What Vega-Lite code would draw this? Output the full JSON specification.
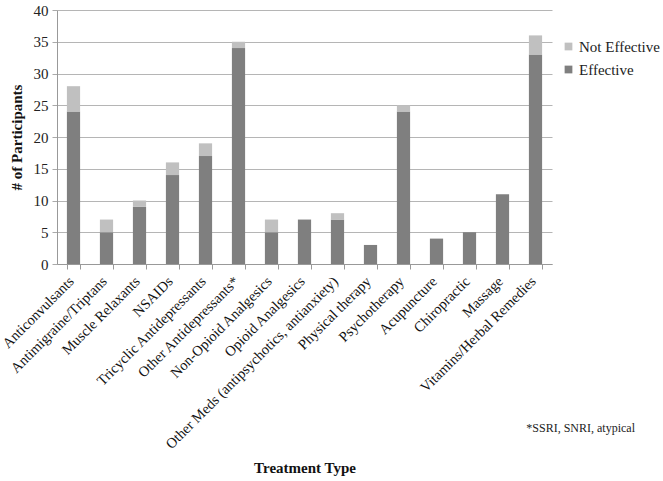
{
  "$schema": "https://vega.github.io/schema/vega-lite/v6.json",
  "width": 495,
  "height": 254,
  "autosize": {"type": "none"},
  "padding": {"left": 57, "top": 10, "right": 111, "bottom": 217},
  "background": "white",
  "config": {
    "font": "Liberation Serif",
    "view": {"stroke": null}
  },
  "title": {
    "text": "*SSRI, SNRI, atypical",
    "orient": "bottom",
    "anchor": "end",
    "frame": "group",
    "fontSize": 12,
    "fontWeight": "normal",
    "font": "Liberation Serif",
    "color": "#222",
    "offset": -52,
    "dx": 83
  },
  "data": {
    "values": [
      {"t": "Anticonvulsants", "s": "Effective", "v": 24, "o": 1},
      {"t": "Anticonvulsants", "s": "Not Effective", "v": 4, "o": 2},
      {"t": "Antimigraine/Triptans", "s": "Effective", "v": 5, "o": 1},
      {"t": "Antimigraine/Triptans", "s": "Not Effective", "v": 2, "o": 2},
      {"t": "Muscle Relaxants", "s": "Effective", "v": 9, "o": 1},
      {"t": "Muscle Relaxants", "s": "Not Effective", "v": 1, "o": 2},
      {"t": "NSAIDs", "s": "Effective", "v": 14, "o": 1},
      {"t": "NSAIDs", "s": "Not Effective", "v": 2, "o": 2},
      {"t": "Tricyclic Antidepressants", "s": "Effective", "v": 17, "o": 1},
      {"t": "Tricyclic Antidepressants", "s": "Not Effective", "v": 2, "o": 2},
      {"t": "Other Antidepressants*", "s": "Effective", "v": 34, "o": 1},
      {"t": "Other Antidepressants*", "s": "Not Effective", "v": 1, "o": 2},
      {"t": "Non-Opioid Analgesics", "s": "Effective", "v": 5, "o": 1},
      {"t": "Non-Opioid Analgesics", "s": "Not Effective", "v": 2, "o": 2},
      {"t": "Opioid Analgesics", "s": "Effective", "v": 7, "o": 1},
      {"t": "Opioid Analgesics", "s": "Not Effective", "v": 0, "o": 2},
      {"t": "Other Meds (antipsychotics, antianxiety)", "s": "Effective", "v": 7, "o": 1},
      {"t": "Other Meds (antipsychotics, antianxiety)", "s": "Not Effective", "v": 1, "o": 2},
      {"t": "Physical therapy", "s": "Effective", "v": 3, "o": 1},
      {"t": "Physical therapy", "s": "Not Effective", "v": 0, "o": 2},
      {"t": "Psychotherapy", "s": "Effective", "v": 24, "o": 1},
      {"t": "Psychotherapy", "s": "Not Effective", "v": 1, "o": 2},
      {"t": "Acupuncture", "s": "Effective", "v": 4, "o": 1},
      {"t": "Acupuncture", "s": "Not Effective", "v": 0, "o": 2},
      {"t": "Chiropractic", "s": "Effective", "v": 5, "o": 1},
      {"t": "Chiropractic", "s": "Not Effective", "v": 0, "o": 2},
      {"t": "Massage", "s": "Effective", "v": 11, "o": 1},
      {"t": "Massage", "s": "Not Effective", "v": 0, "o": 2},
      {"t": "Vitamins/Herbal Remedies", "s": "Effective", "v": 33, "o": 1},
      {"t": "Vitamins/Herbal Remedies", "s": "Not Effective", "v": 3, "o": 2}
    ]
  },
  "mark": {"type": "bar"},
  "encoding": {
    "x": {
      "field": "t",
      "type": "nominal",
      "sort": null,
      "scale": {"paddingInner": 0.6, "paddingOuter": 0.3},
      "axis": {
        "title": "Treatment Type",
        "titleFont": "Liberation Serif",
        "titleFontSize": 15,
        "titleFontWeight": "bold",
        "titleColor": "#111",
        "titleY": 203,
        "titleBaseline": "middle",
        "labelAngle": -45,
        "labelAlign": "right",
        "labelBaseline": "middle",
        "labelFont": "Liberation Serif",
        "labelFontSize": 14.5,
        "labelColor": "#111",
        "labelPadding": 10,
        "labelOffset": -2,
        "labelLimit": 400,
        "tickBand": "extent",
        "tickSize": 5,
        "tickColor": "#999",
        "domainColor": "#999",
        "grid": false
      }
    },
    "y": {
      "field": "v",
      "type": "quantitative",
      "stack": "zero",
      "scale": {"domain": [0, 40]},
      "axis": {
        "title": "# of Participants",
        "titleFont": "Liberation Serif",
        "titleFontSize": 15,
        "titleFontWeight": "bold",
        "titleColor": "#111",
        "titlePadding": 9,
        "values": [0, 5, 10, 15, 20, 25, 30, 35, 40],
        "labelFont": "Liberation Serif",
        "labelFontSize": 15,
        "labelColor": "#222",
        "labelPadding": 4,
        "tickSize": 5,
        "tickColor": "#aaa",
        "domainColor": "#999",
        "gridColor": "#b5b5b5",
        "gridWidth": 1
      }
    },
    "color": {
      "field": "s",
      "type": "nominal",
      "scale": {"domain": ["Not Effective", "Effective"], "range": ["#c0c0c0", "#7f7f7f"]},
      "legend": {
        "title": null,
        "orient": "none",
        "legendX": 504,
        "legendY": 29,
        "symbolType": "square",
        "symbolSize": 60,
        "symbolStrokeWidth": 0,
        "labelFont": "Liberation Serif",
        "labelFontSize": 15,
        "labelColor": "#222",
        "labelOffset": 3,
        "rowPadding": 7
      }
    },
    "order": {"field": "o", "type": "quantitative"}
  }
}
